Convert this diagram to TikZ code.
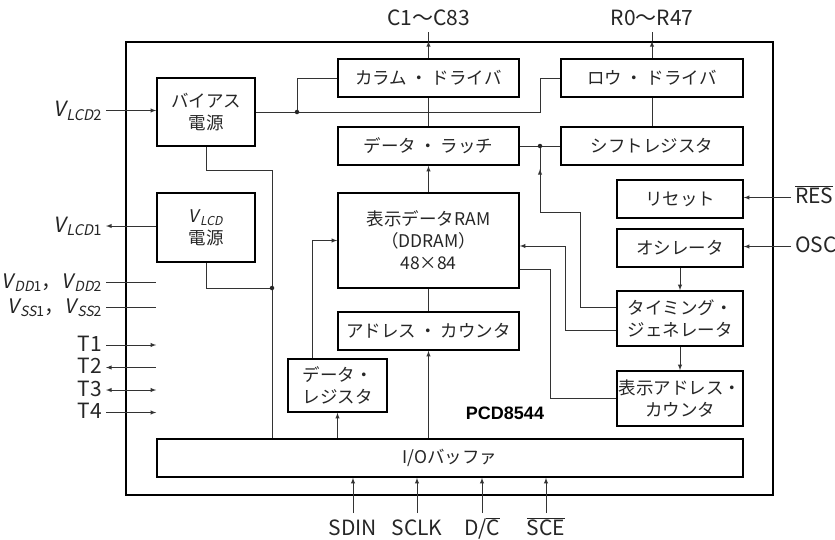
\documentclass[tikz,border=0pt]{standalone}
\usepackage{fontspec}
\setmainfont{Noto Sans CJK JP}
\newfontfamily\slfont{Noto Sans CJK JP}[FakeSlant=0.2]
\newfontfamily\pcdfont{Liberation Sans}
\usetikzlibrary{arrows}
\newcommand{\vsig}[2]{{\slfont V}\kern1pt\textsubscript{{\slfont #1}#2}}
\newcommand{\nak}{\hspace{0.2em}・\hspace{0.2em}}

\begin{document}
\begin{tikzpicture}[x=1pt,y=-1pt,>=latex,
    blk/.style={draw,line width=1.6pt,inner sep=0pt,align=center,text=black!85,font=\fontsize{17.5}{22}\selectfont},
    wire/.style={line width=0.9pt,draw=black!80},
    pin/.style={inner sep=2pt,outer sep=2pt,text height=15pt,text depth=3pt,text=black!85,font=\fontsize{21}{23}\selectfont},
    dot/.style={circle,fill=black!85,inner sep=0pt,minimum size=4.5pt}]
  \useasboundingbox (0,0) rectangle (835,539);
  \node[draw,line width=1.8pt,minimum width=647,minimum height=453] (chip) at (449.5,268.5) {};

  \node[blk,minimum width=98,minimum height=68] (bias) at (206,112) {バイアス\\電源};
  \node[blk,minimum width=98,minimum height=69] (vlcd) at (206,227.5) {\vsig{LCD}{}\\電源};
  \node[blk,minimum width=181,minimum height=38] (coldrv) at (428.5,78) {カラム\nak ドライバ};
  \node[blk,minimum width=181,minimum height=38] (latch) at (428.5,146) {データ\nak ラッチ};
  \node[blk,minimum width=182,minimum height=38] (rowdrv) at (652,78) {ロウ\nak ドライバ};
  \node[blk,minimum width=182,minimum height=38] (shift) at (652,146) {シフトレジスタ};
  \node[blk,minimum width=126,minimum height=38] (reset) at (680,199) {リセット};
  \node[blk,minimum width=126,minimum height=38] (osc) at (680,248) {オシレータ};
  \node[blk,minimum width=126,minimum height=55] (timing) at (680,318.5) {タイミング・\\ジェネレータ};
  \node[blk,minimum width=126,minimum height=55] (dispcnt) at (680,398.5) {表示アドレス・\\カウンタ};
  \node[blk,minimum width=181,minimum height=95] (ddram) at (428.5,240.5) {表示データRAM\\（DDRAM）\\48×84};
  \node[blk,minimum width=181,minimum height=38] (addrcnt) at (428.5,331) {アドレス\nak カウンタ};
  \node[blk,minimum width=99,minimum height=53] (datareg) at (337.5,385.5) {データ・\\レジスタ};
  \node[blk,minimum width=586,minimum height=38] (iobuf) at (450,458) {I/Oバッファ};
  \node[font=\pcdfont\fontsize{18}{20}\selectfont\bfseries] (chipname) at (505,413) {PCD8544};

  \node[pin,anchor=east] (vlcdtwo) at (106,110.5) {\vsig{LCD}{2}};
  \node[pin,anchor=east] (vlcdone) at (106,226) {\vsig{LCD}{1}};
  \node[pin,anchor=east,font=\fontsize{20}{22}\selectfont] (vdd) at (106,282) {\vsig{DD}{1}，\vsig{DD}{2}};
  \node[pin,anchor=east,font=\fontsize{20}{22}\selectfont] (vss) at (106,307) {\vsig{SS}{1}，\vsig{SS}{2}};
  \node[pin,anchor=east] (tone) at (106,345) {T1};
  \node[pin,anchor=east] (ttwo) at (106,367.5) {T2};
  \node[pin,anchor=east] (tthree) at (106,390) {T3};
  \node[pin,anchor=east] (tfour) at (106,412.5) {T4};
  \node[pin] (colout) at (428.5,19) {C1〜C83};
  \node[pin] (rowout) at (652,19) {R0〜R47};
  \node[pin,anchor=west] (res) at (791,197.5) {$\overline{\mbox{RES}}$};
  \node[pin,anchor=west] (oscin) at (791,246.5) {OSC};
  \node[pin] (sdin) at (353,529) {SDIN};
  \node[pin] (sclk) at (417,529) {SCLK};
  \node[pin] (dcin) at (482,529) {D/$\overline{\mbox{C}}$};
  \node[pin] (sce) at (546,529) {$\overline{\mbox{SCE}}$};

  % pins
  \draw[wire,->] (vlcdtwo.east) -- (vlcdtwo.east -| bias.west);
  \draw[wire,->] (vlcdone.east -| vlcd.west) -- (vlcdone.east);
  \draw[wire] (vdd.east) -- (vdd.east -| vlcd.west);
  \draw[wire] (vss.east) -- (vss.east -| vlcd.west);
  \draw[wire,->] (tone.east) -- (tone.east -| iobuf.west);
  \draw[wire,<-] (ttwo.east) -- (ttwo.east -| iobuf.west);
  \draw[wire,<->] (tthree.east) -- (tthree.east -| iobuf.west);
  \draw[wire,->] (tfour.east) -- (tfour.east -| iobuf.west);
  \draw[wire,->] (coldrv.north) -- (coldrv.north |- chip.north);
  \draw[wire] (coldrv.north |- chip.north) -- (colout.south);
  \draw[wire,->] (rowdrv.north) -- (rowdrv.north |- chip.north);
  \draw[wire] (rowdrv.north |- chip.north) -- (rowout.south);
  \draw[wire,->] (res.west) -- (res.west -| reset.east);
  \draw[wire,->] (oscin.west) -- (oscin.west -| osc.east);
  \foreach \n in {sdin,sclk,dcin,sce}
    \draw[wire,->] ([yshift=3pt]\n.north) -- (\n.north |- iobuf.south);

  % bias lines
  \coordinate (jbias) at (297,112);
  \coordinate (jrow) at (540,112);
  \draw[wire] (bias.east) -- (jrow) |- (rowdrv.west);
  \draw[wire] (jbias) |- (coldrv.west);
  \node[dot] (dbias) at (jbias) {};

  % data path
  \draw[wire] (coldrv.south) -- (latch.north);
  \draw[wire] (rowdrv.south) -- (shift.north);
  \draw[wire,->] (ddram.north) -- (latch.south);
  \draw[wire] (latch.east) -- (shift.west);
  \coordinate (jlatch) at (540,146);
  \draw[wire] (timing.west |- 0,307) -- (580,307) |- (540,212) -- (jlatch);
  \draw[wire,->] (jlatch |- 0,212) -- (jlatch |- 0,169);
  \node[dot] (dlatch) at (jlatch) {};
  \draw[wire,->] (timing.west |- 0,330) -- (565,330) |- (ddram.east |- 0,246);
  \draw[wire] (ddram.east |- 0,269) -- (550,269) |- (dispcnt.west);
  \draw[wire,->] (osc.south) -- (timing.north);
  \draw[wire,->] (timing.south) -- (dispcnt.north);

  % power
  \coordinate (jpow) at (272,288);
  \draw[wire] (bias.south) |- (jpow |- 0,170) -- (jpow |- iobuf.north);
  \draw[wire] (vlcd.south) |- (jpow);
  \node[dot] (dpow) at (jpow) {};

  % io buffer
  \draw[wire,->] (datareg.north -| 312,0) |- (ddram.west);
  \draw[wire,->] (iobuf.north -| datareg.south) -- (datareg.south);
  \draw[wire,->] (iobuf.north -| addrcnt.south) -- (addrcnt.south);
  \draw[wire] (ddram.south) -- (addrcnt.north);
\end{tikzpicture}
\end{document}
